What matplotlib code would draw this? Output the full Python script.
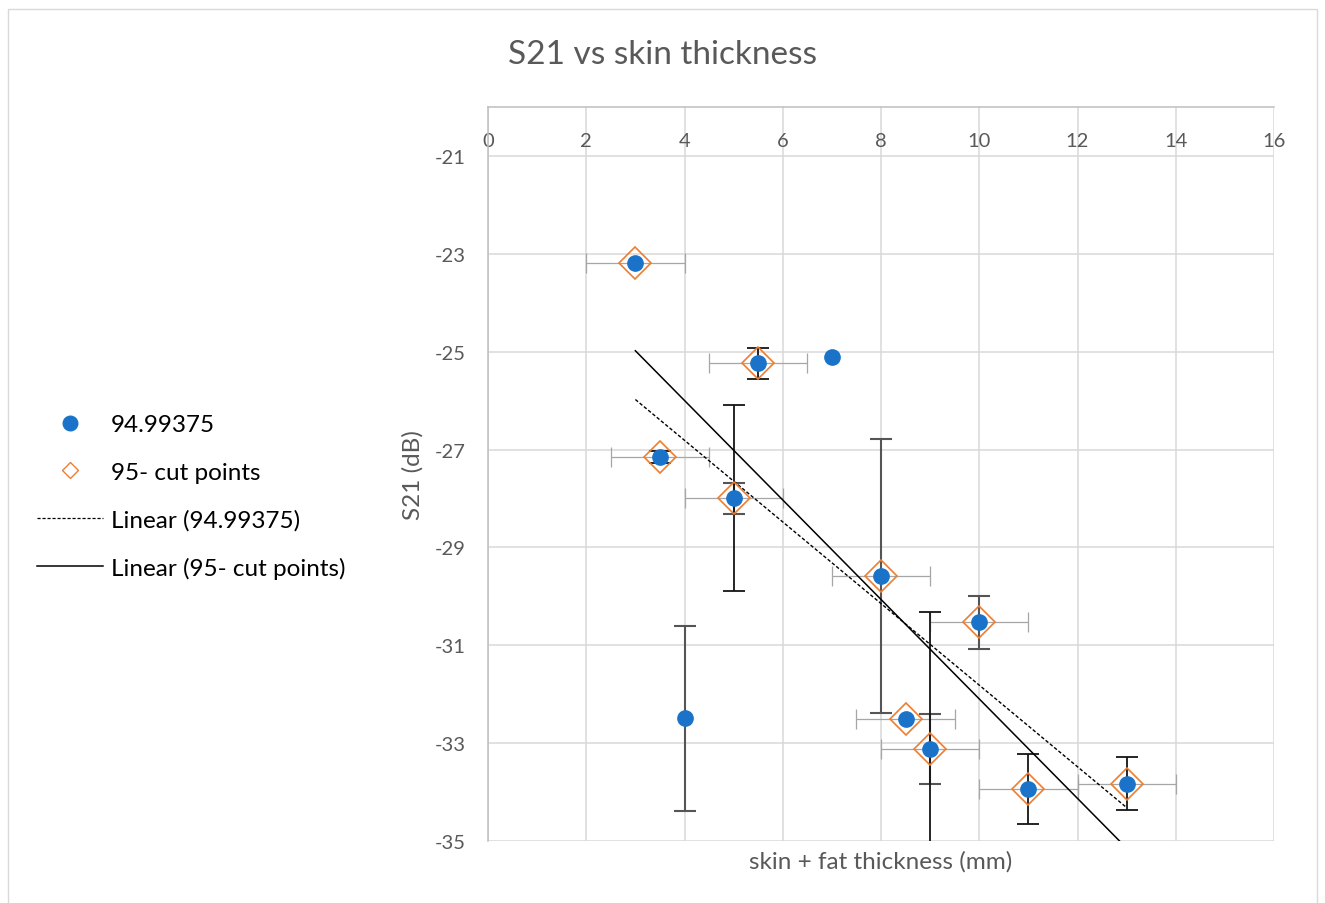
import numpy as np
import matplotlib
matplotlib.use("Agg")
import matplotlib.pyplot as plt
from matplotlib.lines import Line2D
from matplotlib.patches import Rectangle

plt.rcParams['font.family'] = ['Lato', 'DejaVu Sans']
plt.rcParams['axes.unicode_minus'] = False

# ---------------- data ----------------
title = "S21 vs skin thickness"
x_label = "skin + fat thickness (mm)"
y_label = "S21 (dB)"
series1_name = "94.99375"
series2_name = "95- cut points"

# series 1 (all measurements)
x1 = [3, 5.5, 7, 3.5, 5, 8, 10, 4, 8.5, 9, 11, 13]
y1 = [-23.19, -25.24, -25.11, -27.15, -28.0, -29.58, -30.53, -32.49, -32.5, -33.12, -33.94, -33.83]
y1_err = [0, 0, 0, 0, 0.32, 2.8, 0.54, 1.89, 0, 0.71, 0, 0]

# series 2 (cut points)
x2 = [3, 5.5, 3.5, 5, 8, 10, 8.5, 9, 11, 13]
y2 = [-23.19, -25.24, -27.15, -28.0, -29.58, -30.53, -32.5, -33.12, -33.94, -33.83]
y2_err = [0, 0.32, 0.13, 1.9, 0, 0, 0, 2.8, 0.71, 0.54]
x2_err = [1, 1, 1, 1, 1, 1, 1, 1, 1, 1]

x_ticks = [0, 2, 4, 6, 8, 10, 12, 14, 16]
y_ticks = [-35, -33, -31, -29, -27, -25, -23, -21]

# ---------------- styles ----------------
BLUE = '#1A73C9'
ORANGE = '#ED7D31'
TXT = '#595959'
GRID = '#D9D9D9'
AXIS = '#BFBFBF'

W, H = 1325, 904
fig = plt.figure(figsize=(W / 100, H / 100), dpi=100)
fig.patches.append(Rectangle((8 / W, -0.01), (1317 - 8) / W, 1 - 10 / H + 0.01,
                             transform=fig.transFigure, fill=False,
                             edgecolor='#D9D9D9', lw=1.0))

left, right, top, bottom = 488 / W, 1274 / W, 1 - 108 / H, 1 - 842 / H
ax = fig.add_axes([left, bottom, right - left, top - bottom])
ax.set_xlim(0, 16)
ax.set_ylim(-35, -20)

ax.set_xticks(x_ticks)
ax.set_yticks(y_ticks)
ax.grid(True, color=GRID, lw=1.1, zorder=0)
ax.set_axisbelow(True)
for s in ['right', 'bottom']:
    ax.spines[s].set_visible(False)
for s in ['left', 'top']:
    ax.spines[s].set_color(AXIS)
    ax.spines[s].set_linewidth(1.1)
ax.xaxis.tick_top()
ax.tick_params(axis='x', length=0, pad=-30, labelsize=14.5, labelcolor=TXT)
ax.tick_params(axis='y', length=0, pad=16, labelsize=14.5, labelcolor=TXT)

x1a, y1a, y1e = np.array(x1), np.array(y1), np.array(y1_err)
x2a, y2a, y2e, x2e = np.array(x2), np.array(y2), np.array(y2_err), np.array(x2_err)

# horizontal error bars (series 2)
ax.errorbar(x2a, y2a, xerr=x2e, fmt='none', ecolor='#A6A6A6', elinewidth=0.9,
            capsize=7.5, capthick=0.9, zorder=2)
# vertical error bars
m1 = y1e > 0
ax.errorbar(x1a[m1], y1a[m1], yerr=y1e[m1], fmt='none', ecolor='#555555',
            elinewidth=1.5, capsize=8, capthick=1.5, zorder=2.2)
m2 = y2e > 0
ax.errorbar(x2a[m2], y2a[m2], yerr=y2e[m2], fmt='none', ecolor='#151515',
            elinewidth=1.3, capsize=8, capthick=1.3, zorder=2.3)

# trendlines (least squares)
p1 = np.polyfit(x1a, y1a, 1)
xs1 = np.array([x1a.min(), x1a.max()])
ax.plot(xs1, np.polyval(p1, xs1), color='black', lw=1.0, ls=(0, (2.5, 1.5)), zorder=3)
p2 = np.polyfit(x2a, y2a, 1)
xs2 = np.array([x2a.min(), x2a.max()])
ax.plot(xs2, np.polyval(p2, xs2), color='black', lw=1.1, zorder=3)

# markers
ax.plot(x2a, y2a, ls='none', marker='D', markersize=16.5, markerfacecolor='none',
        markeredgecolor=ORANGE, markeredgewidth=1.2, zorder=4)
ax.plot(x1a, y1a, ls='none', marker='o', markersize=11, markerfacecolor=BLUE,
        markeredgecolor=BLUE, zorder=5)

# titles
fig.text(0.5, 1 - 55 / H, title, ha='center', va='center', fontsize=24, color=TXT)
fig.text((488 + 1274) / 2 / W, 1 - 862 / H, x_label, ha='center', va='center',
         fontsize=17.5, color=TXT)
fig.text(413 / W, 1 - 475 / H, y_label, rotation=90, ha='center', va='center',
         fontsize=17.5, color=TXT)

# legend
handles = [
    Line2D([], [], ls='none', marker='o', markersize=10.5, markerfacecolor=BLUE, markeredgecolor=BLUE),
    Line2D([], [], ls='none', marker='D', markersize=8.5, markerfacecolor='none',
           markeredgecolor=ORANGE, markeredgewidth=1.0),
    Line2D([], [], color='black', lw=0.9, ls=(0, (2.5, 1.5))),
    Line2D([], [], color='black', lw=1.1),
]
labels = [series1_name, series2_name, "Linear (" + series1_name + ")", "Linear (" + series2_name + ")"]
fig.legend(handles, labels, loc='center left', bbox_to_anchor=(37 / W, 1 - 497.5 / H),
           frameon=False, fontsize=17.5, handlelength=2.7, handletextpad=0.33,
           labelspacing=1.08, borderpad=0, borderaxespad=0, labelcolor='#000000')

fig.savefig('out.png', dpi=100)
